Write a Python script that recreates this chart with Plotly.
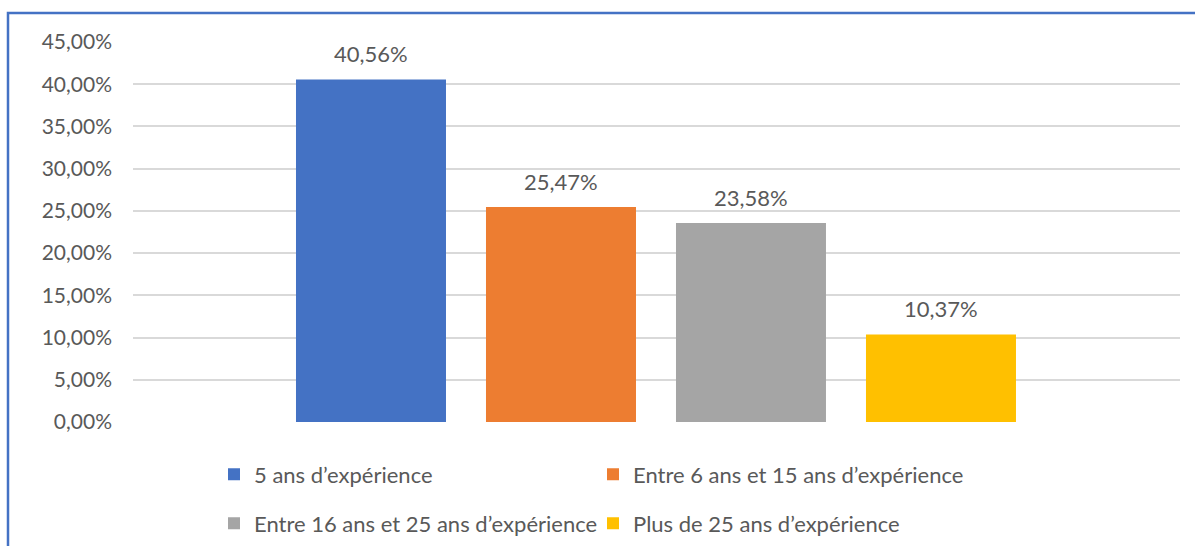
import plotly.graph_objects as go

# Répartition des répondants selon l'expérience
categories = [
    "5 ans d’expérience",
    "Entre 6 ans et 15 ans d’expérience",
    "Entre 16 ans et 25 ans d’expérience",
    "Plus de 25 ans d’expérience",
]
values = [40.56, 25.47, 23.58, 10.37]
colors = ["#4472C4", "#ED7D31", "#A5A5A5", "#FFC000"]
legend_rows = ["legend", "legend", "legend2", "legend2"]
y_max = 45
y_step = 5

FONT = "Lato"
TXT = "#595959"
FS = 22

fig = go.Figure()
for cat, val, col, lg in zip(categories, values, colors, legend_rows):
    fig.add_trace(go.Bar(
        x=[cat], y=[val], name=cat, marker_color=col,
        marker_line_width=0, legend=lg, hoverinfo="skip",
    ))
    fig.add_annotation(
        x=cat, y=val, text=f"{val:.2f}".replace(".", ",") + "%",
        showarrow=False, yanchor="bottom", yshift=10,
        font=dict(family=FONT, size=FS, color=TXT),
    )

legend_common = dict(
    orientation="h", x=(214 - 133) / 1047, xanchor="left", yanchor="middle",
    entrywidth=334, entrywidthmode="pixels",
    font=dict(family=FONT, size=FS, color=TXT), bgcolor="rgba(0,0,0,0)",
)

fig.update_layout(
    width=1195, height=546,
    margin=dict(l=133, r=15, t=42, b=123.5, autoexpand=False),
    paper_bgcolor="white", plot_bgcolor="white",
    barmode="overlay", bargap=40 / 190,
    separators=", ",
    font=dict(family=FONT, color=TXT, size=FS),
    xaxis=dict(
        type="category", categoryorder="array", categoryarray=categories,
        range=[-1.2526, 4.258], showticklabels=False, showgrid=False,
        zeroline=False, showline=False, ticks="",
    ),
    yaxis=dict(
        range=[0, y_max], tickmode="linear", tick0=0, dtick=y_step,
        tickformat=".2f", ticksuffix="%", showticksuffix="all",
        showgrid=True, gridcolor="#D9D9D9", gridwidth=1.5,
        zeroline=False, showline=False, ticks="", ticklabelstandoff=20,
        tickfont=dict(family=FONT, size=21, color=TXT),
    ),
    legend=dict(legend_common, y=(422.5 - 475) / 380.5),
    legend2=dict(legend_common, y=(422.5 - 524) / 380.5),
    showlegend=True,
)

# Cadre du graphique
fig.add_shape(
    type="rect", xref="paper", yref="paper",
    x0=(8 - 133) / 1047, x1=(1200 - 133) / 1047,
    y0=-0.5, y1=(422.5 - 13) / 380.5,
    line=dict(color="#4472C4", width=2.5), layer="below",
)

fig.write_html("out.html")
